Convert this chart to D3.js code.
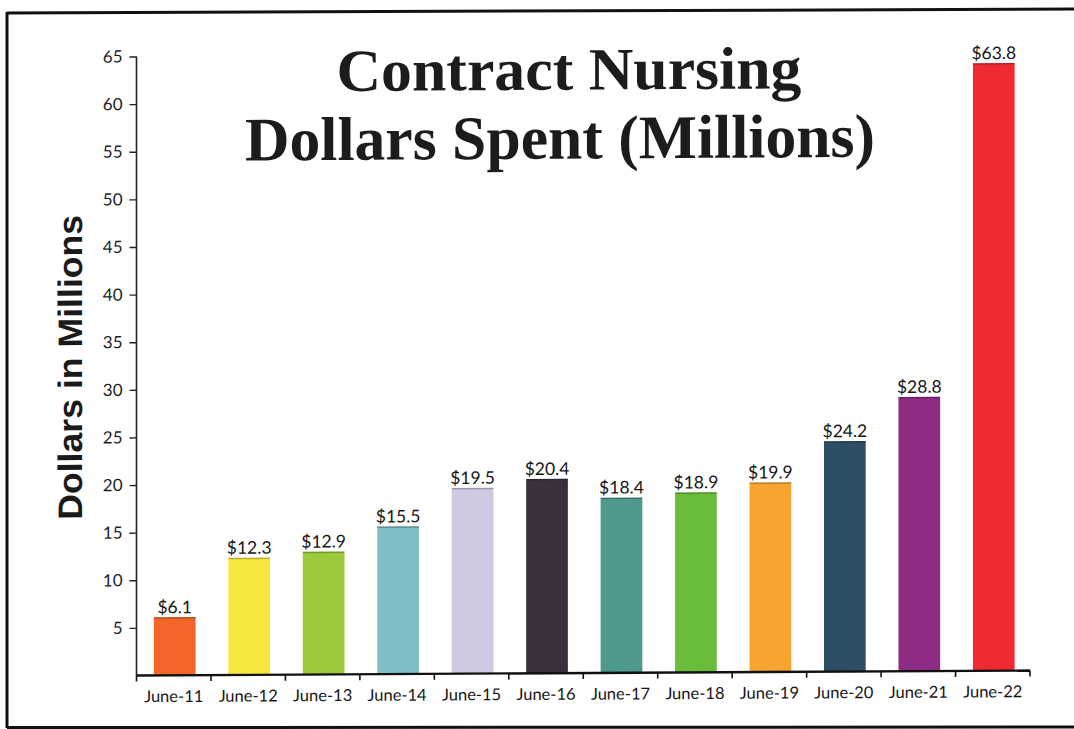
<!DOCTYPE html>
<html>
<head>
<meta charset="utf-8">
<script src="https://cdn.jsdelivr.net/npm/d3@7/dist/d3.min.js"></script>
<style>
  html, body { margin: 0; padding: 0; background: #fff; }
  svg { display: block; }
</style>
</head>
<body>
<svg id="chart" width="1074" height="729"></svg>
<script>
const categories = ["June-11","June-12","June-13","June-14","June-15","June-16","June-17","June-18","June-19","June-20","June-21","June-22"];
const values = [6.1, 12.3, 12.9, 15.5, 19.5, 20.4, 18.4, 18.9, 19.9, 24.2, 28.8, 63.8];
const barColors = ["#f4652a","#f8e73c","#9dc93c","#7fbec4","#d1c8e2","#3b2f3d","#4f9a8f","#69bd3b","#f7a431","#2d4f66","#8e2b83","#ef2a33"];
const yTicks = [5,10,15,20,25,30,35,40,45,50,55,60,65];
const titleLines = ["Contract Nursing", "Dollars Spent (Millions)"];
const yTitle = "Dollars in Millions";

(function () {
const root = d3.select("#chart");
const W = 1074, H = 729;
const pLeft = 136.5, pRight = 1030, pTop = 56.5, pBottom = 675.5;

// frame (scanned page border)
root.append("line").attr("x1", 7).attr("x2", W).attr("y1", 13).attr("y2", 9).attr("stroke", "#111").attr("stroke-width", 3);
root.append("line").attr("x1", 7).attr("x2", 7).attr("y1", 12).attr("y2", 728).attr("stroke", "#111").attr("stroke-width", 3);
root.append("line").attr("x1", 7).attr("x2", W).attr("y1", 727.5).attr("y2", 727).attr("stroke", "#111").attr("stroke-width", 3);

// slight scan skew: right side sits a few pixels higher
const svg = root.append("g")
  .attr("transform", `translate(${pLeft},${pBottom}) skewY(-0.32) translate(${-pLeft},${-pBottom})`);

const x = d3.scaleBand().domain(categories).range([pLeft, pRight]).padding(0);
const y = d3.scaleLinear().domain([0, 65]).range([pBottom, pTop]);
const barW = x.bandwidth() * 0.56;
const cx = i => x(categories[i]) + x.bandwidth() / 2 + 1;

// bars
const g = svg.append("g");
g.selectAll("rect.bar").data(values).join("rect")
  .attr("class", "bar")
  .attr("x", (d, i) => cx(i) - barW / 2)
  .attr("y", d => y(d))
  .attr("width", barW)
  .attr("height", d => y(0) - y(d))
  .attr("fill", (d, i) => barColors[i]);
g.selectAll("line.top").data(values).join("line")
  .attr("class", "top")
  .attr("x1", (d, i) => cx(i) - barW / 2)
  .attr("x2", (d, i) => cx(i) + barW / 2)
  .attr("y1", d => y(d) + 0.75).attr("y2", d => y(d) + 0.75)
  .attr("stroke", "rgba(0,0,0,0.25)").attr("stroke-width", 1.5);

// value labels
g.selectAll("text.val").data(values).join("text")
  .attr("class", "val")
  .attr("x", (d, i) => cx(i))
  .attr("y", d => y(d) - 4)
  .attr("text-anchor", "middle")
  .attr("font-family", "Lato, 'Open Sans', sans-serif")
  .attr("font-size", 17.5)
  .attr("fill", "#151515")
  .text(d => "$" + d.toFixed(1));

// y axis
const yAxis = d3.axisLeft(y).tickValues(yTicks).tickSize(7).tickPadding(7);
const ya = svg.append("g").attr("transform", `translate(${pLeft},0)`).call(yAxis);
ya.select(".domain").attr("stroke", "#222").attr("stroke-width", 1.6).attr("d", `M0,${pTop}V${pBottom}`);
ya.selectAll(".tick line").attr("stroke", "#222").attr("stroke-width", 1.4);
ya.selectAll(".tick text").attr("font-family", "Lato, 'Open Sans', sans-serif").attr("font-size", 17).attr("fill", "#1e1e1e");

// x axis
const xAxis = d3.axisBottom(x).tickSize(0).tickPadding(15);
const xa = svg.append("g").attr("transform", `translate(0,${pBottom})`).call(xAxis);
xa.select(".domain").attr("stroke", "#111").attr("stroke-width", 2.4).attr("d", `M${pLeft},0H${pRight}`);
xa.selectAll(".tick text").attr("font-family", "Lato, 'Open Sans', sans-serif").attr("font-size", 16.5).attr("fill", "#151515");
const bounds = categories.map(c => x(c)).concat([x.range()[1]]);
xa.selectAll("line.bnd").data(bounds).join("line").attr("class", "bnd")
  .attr("x1", d => d).attr("x2", d => d).attr("y1", 0).attr("y2", 6)
  .attr("stroke", "#111").attr("stroke-width", 1.6);

// title
const tl = svg.append("g");
tl.append("text").attr("x", 569).attr("y", 92).attr("text-anchor", "middle")
  .attr("font-family", "'Liberation Serif', serif").attr("font-weight", "bold").attr("font-size", 60)
  .attr("fill", "#1c1c1c").attr("textLength", 465).attr("lengthAdjust", "spacingAndGlyphs")
  .text(titleLines[0]);
tl.append("text").attr("x", 560).attr("y", 161).attr("text-anchor", "middle")
  .attr("font-family", "'Liberation Serif', serif").attr("font-weight", "bold").attr("font-size", 62)
  .attr("fill", "#1c1c1c").attr("textLength", 630).attr("lengthAdjust", "spacingAndGlyphs")
  .text(titleLines[1]);

// y title
svg.append("text")
  .attr("transform", "translate(82,367) rotate(-90)")
  .attr("text-anchor", "middle")
  .attr("font-family", "'Liberation Sans', Arial, sans-serif").attr("font-weight", "bold").attr("font-size", 34)
  .attr("fill", "#1a1a1a").attr("textLength", 305).attr("lengthAdjust", "spacingAndGlyphs")
  .text(yTitle);
})();
</script>
</body>
</html>
